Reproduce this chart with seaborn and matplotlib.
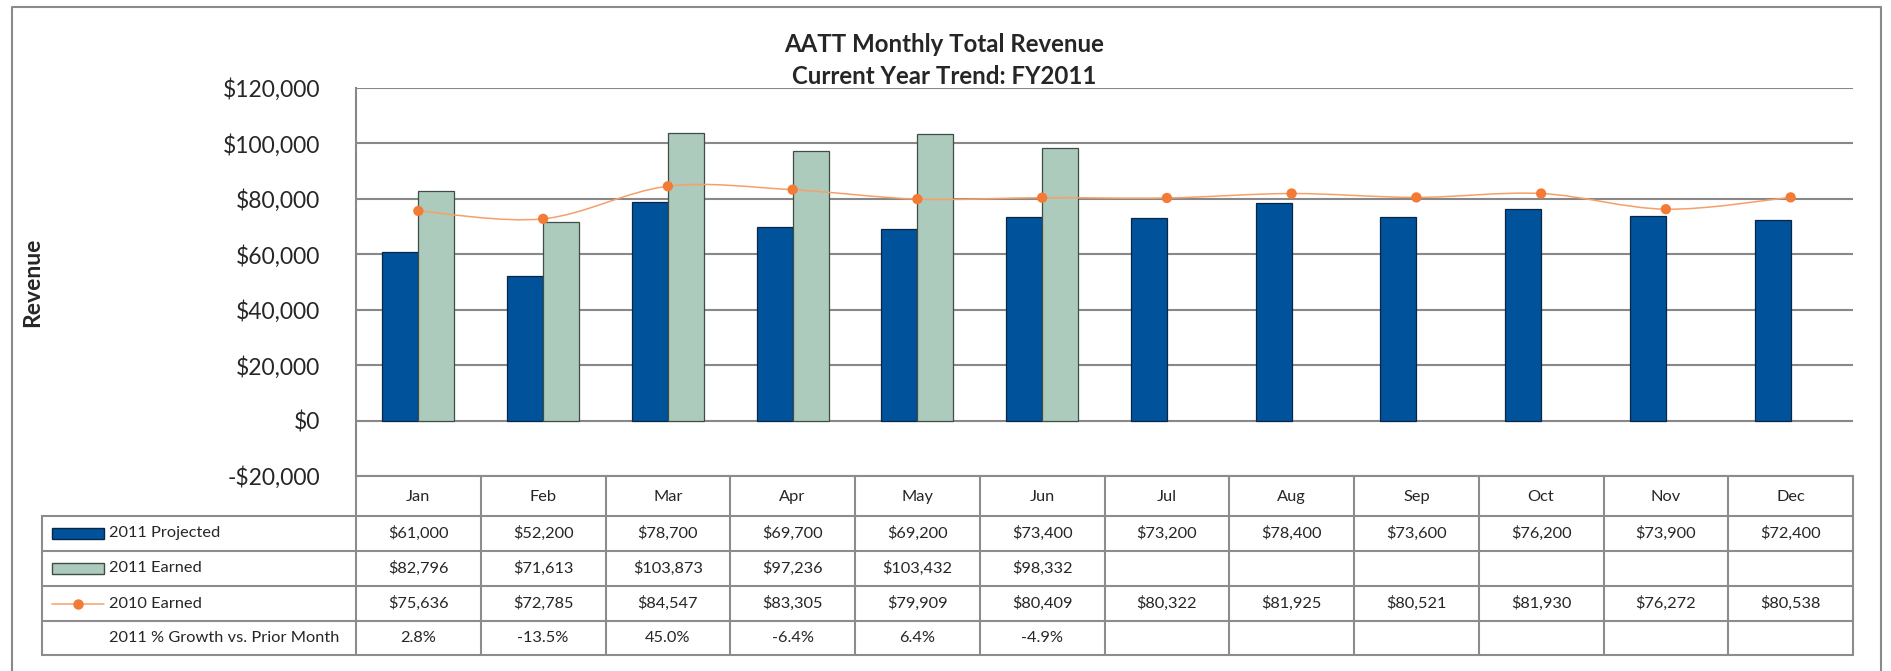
import numpy as np
import pandas as pd
import matplotlib.pyplot as plt
import seaborn as sns
from matplotlib.path import Path
from matplotlib.patches import PathPatch, Rectangle
from matplotlib.lines import Line2D
from matplotlib.transforms import blended_transform_factory

months = ['Jan', 'Feb', 'Mar', 'Apr', 'May', 'Jun', 'Jul', 'Aug', 'Sep', 'Oct', 'Nov', 'Dec']
projected_2011 = [61000, 52200, 78700, 69700, 69200, 73400, 73200, 78400, 73600, 76200, 73900, 72400]
earned_2011 = [82796, 71613, 103873, 97236, 103432, 98332, np.nan, np.nan, np.nan, np.nan, np.nan, np.nan]
earned_2010 = [75636, 72785, 84547, 83305, 79909, 80409, 80322, 81925, 80521, 81930, 76272, 80538]
growth_2011 = ['2.8%', '-13.5%', '45.0%', '-6.4%', '6.4%', '-4.9%', '', '', '', '', '', '']
series_names = ['2011 Projected', '2011 Earned', '2010 Earned']
growth_label = '2011 % Growth vs. Prior Month'
y_ticks = [-20000, 0, 20000, 40000, 60000, 80000, 100000, 120000]

blue = '#00529B'
blue_edge = '#0B2545'
green = '#ADCBBD'
green_edge = '#3E4E47'
orange = '#F47B35'
orange_line = '#F5A06A'
grid_col = '#888888'

W, H = 1891, 671
sns.set_style('white')
plt.rcParams['font.family'] = ['Lato', 'DejaVu Sans']

fig = plt.figure(figsize=(W / 100, H / 100), dpi=100)


def fx(x):
    return x / W


def fy(y):
    return 1 - y / H


ax_l, ax_r, ax_t, ax_b = 356, 1853, 88, 476
ax = fig.add_axes([fx(ax_l), fy(ax_b), (ax_r - ax_l) / W, (ax_b - ax_t) / H])

bars = pd.DataFrame({
    'month': months * 2,
    'series': [series_names[0]] * 12 + [series_names[1]] * 12,
    'value': projected_2011 + earned_2011,
})
sns.barplot(data=bars, x='month', y='value', hue='series', hue_order=series_names[:2],
            palette=[blue, green], saturation=1, width=0.577, errorbar=None, legend=False,
            ax=ax, zorder=3)
for cont, ec in zip(ax.containers, [blue_edge, green_edge]):
    for p in cont:
        p.set_edgecolor(ec)
        p.set_linewidth(0.9)

# smoothed 2010 line (Excel style bezier through the points)
xs = np.arange(len(months), dtype=float)
pts = np.column_stack([xs, np.array(earned_2010, dtype=float)])
ext = np.vstack([pts[0], pts, pts[-1]])
verts = [pts[0]]
codes = [Path.MOVETO]
for i in range(len(pts) - 1):
    p0, p1, p2, p3 = ext[i], ext[i + 1], ext[i + 2], ext[i + 3]
    verts += [p1 + (p2 - p0) / 6, p2 - (p3 - p1) / 6, p2]
    codes += [Path.CURVE4] * 3
ax.add_patch(PathPatch(Path(verts, codes), fill=False, edgecolor=orange_line, lw=1.1, zorder=4))
sns.scatterplot(x=xs, y=earned_2010, color=orange, s=55, edgecolor='none', zorder=5, ax=ax, legend=False)

ax.set_xlim(-0.5, len(months) - 0.5)
ax.set_ylim(-20000, 120000)
ax.set_yticks(y_ticks)
ax.set_yticklabels([('-' if v < 0 else '') + '${:,.0f}'.format(abs(v)) for v in y_ticks])
ax.tick_params(axis='y', length=0, pad=26, labelsize=16.5)
ax.set_xticks([])
ax.set_xlabel('')
ax.set_ylabel('')
ax.yaxis.grid(True, color=grid_col, lw=1.5, zorder=0)
ax.set_axisbelow(True)
for s in ['top', 'right', 'bottom']:
    ax.spines[s].set_visible(False)
ax.spines['left'].set_color(grid_col)
ax.spines['left'].set_linewidth(1.5)

fig.text(fx(944), fy(45), 'AATT Monthly Total Revenue', ha='center', va='center',
         fontsize=17.3, fontweight='bold')
fig.text(fx(944), fy(77), 'Current Year Trend: FY2011', ha='center', va='center',
         fontsize=17.3, fontweight='bold')
fig.text(fx(33), fy(282), 'Revenue', ha='center', va='center', rotation=90,
         fontsize=16.5, fontweight='bold')

# data table under the chart
tr = blended_transform_factory(ax.transData, fig.transFigure)
tab_l = 42
row_y = [476, 516, 551, 586, 621, 655]
tcol = '#8C8C8C'


def hline(y, x0, x1):
    fig.add_artist(Line2D([fx(x0), fx(x1)], [fy(y), fy(y)], transform=fig.transFigure,
                          color=tcol, lw=1.5))


def vline(x, y0, y1, trans=fig.transFigure):
    fig.add_artist(Line2D([x, x], [fy(y0), fy(y1)], transform=trans, color=tcol, lw=1.5))


hline(row_y[0], ax_l, ax_r)
for y in row_y[1:]:
    hline(y, tab_l, ax_r)
vline(fx(tab_l), row_y[1], row_y[-1])
for i in range(len(months) + 1):
    vline(i - 0.5, row_y[0], row_y[-1], trans=tr)

cell_fs = 11.8
row_vals = [
    ['${:,.0f}'.format(v) for v in projected_2011],
    ['' if np.isnan(v) else '${:,.0f}'.format(v) for v in earned_2011],
    ['${:,.0f}'.format(v) for v in earned_2010],
    growth_2011,
]
for i, m in enumerate(months):
    fig.text(i, fy((row_y[0] + row_y[1]) / 2 + 1), m, transform=tr, ha='center', va='center', fontsize=cell_fs)
for r, vals in enumerate(row_vals):
    yc = fy((row_y[r + 1] + row_y[r + 2]) / 2)
    for i, v in enumerate(vals):
        fig.text(i, yc, v, transform=tr, ha='center', va='center', fontsize=cell_fs)

labels = series_names + [growth_label]
for r, lab in enumerate(labels):
    yc = (row_y[r + 1] + row_y[r + 2]) / 2
    fig.text(fx(109), fy(yc), lab, ha='left', va='center', fontsize=cell_fs)

for r, (fc, ec) in enumerate([(blue, blue_edge), (green, green_edge)]):
    yc = (row_y[r + 1] + row_y[r + 2]) / 2
    fig.add_artist(Rectangle((fx(52), fy(yc + 5.5)), 52 / W, 11 / H, transform=fig.transFigure,
                             facecolor=fc, edgecolor=ec, lw=1))
yc = (row_y[3] + row_y[4]) / 2
fig.add_artist(Line2D([fx(52), fx(104)], [fy(yc), fy(yc)], transform=fig.transFigure,
                      color=orange_line, lw=1.1))
fig.add_artist(Line2D([fx(78)], [fy(yc)], transform=fig.transFigure, marker='o',
                      markersize=7.5, color=orange, markeredgecolor='none'))

# outer chart border
bcol = '#8A8A8A'
fig.add_artist(Line2D([fx(12), fx(12), fx(1881), fx(1881)], [0, fy(7), fy(7), 0],
                      transform=fig.transFigure, color=bcol, lw=1.5))

plt.savefig('out.png', dpi=100)
